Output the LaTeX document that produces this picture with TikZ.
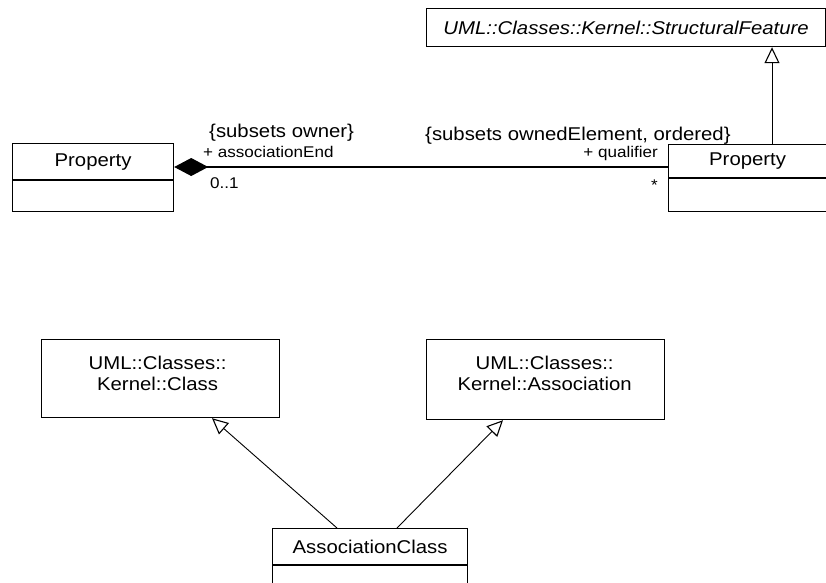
\documentclass[tikz,border=0pt]{standalone}
\usepackage{fontspec}
\setmainfont[FakeStretch=1.1]{Liberation Sans}
\usetikzlibrary{arrows.meta,calc}
\newcommand{\bigtxt}{\fontsize{18.5}{21}\selectfont}
\newcommand{\smalltxt}{\fontsize{15.5}{17}\selectfont}
\begin{document}
\begin{tikzpicture}[x=1pt,y=-1pt,
  box/.style={draw, line width=1.2pt, inner sep=0pt, anchor=north west, font=\bigtxt},
  lbl/.style={inner sep=0pt, font=\bigtxt},
  slbl/.style={inner sep=0pt, font=\smalltxt},
  gen/.style={line width=0.9pt, -{Triangle[open,length=16pt,width=15pt,line width=1.1pt]}},
  assoc/.style={line width=1.2pt, {Diamond[length=34pt,width=18pt]}-}
]
\useasboundingbox[fill=white] (0,0) rectangle (826,582);

% Structural feature
\node[box, minimum width=399pt, minimum height=38pt] (sf) at (426,8) {};
\node[lbl, font=\bigtxt\itshape] (sft) at (sf.center) {UML::Classes::Kernel::StructuralFeature};

% Left Property
\node[box, minimum width=161pt, minimum height=36pt] (lp) at (12,143) {Property};
\node[box, anchor=north, minimum width=161pt, minimum height=31pt] (lpa) at (lp.south) {};

% Right Property
\node[box, minimum width=172pt, minimum height=33pt] (rp) at (668,144) {\hspace*{-14pt}Property};
\node[box, anchor=north, minimum width=172pt, minimum height=33pt] (rpa) at (rp.south) {};

% association
\coordinate (aL) at ($(lp.north east)+(0,24)$);
\draw[assoc] (aL) -- (rp.west |- aL);

\node[lbl, anchor=base west] (l1) at (209,137) {\{subsets owner\}};
\node[slbl, anchor=base west] (l2) at (203,157) {+ associationEnd};
\node[slbl, anchor=base west] (l3) at (210,188) {0..1};
\node[lbl, anchor=base west] (l4) at (425,140) {\{subsets ownedElement, ordered\}};
\node[slbl, anchor=base east] (l5) at (658,157) {+ qualifier};
\node[slbl, anchor=base east] (l6) at (658,190) {*};

% generalization Property -> StructuralFeature
\draw[gen] ($(rp.north west)+(104,0)$) -- ($(sf.south west)+(346,0)$);

% Bottom classes
\node[box, minimum width=238pt, minimum height=78pt] (cb) at (41,339) {};
\node[lbl, align=center] (cbt) at ($(cb.center)+(-3,-5.5)$) {UML::Classes::\\Kernel::Class};
\node[box, minimum width=238pt, minimum height=80pt] (ab) at (426,339) {};
\node[lbl, align=center] (abt) at ($(ab.center)+(-1,-6.5)$) {UML::Classes::\\Kernel::Association};

\node[box, minimum width=195pt, minimum height=36pt] (ac) at (272,528) {AssociationClass};
\node[box, anchor=north, minimum width=195pt, minimum height=40pt] (aca) at (ac.south) {};

\draw[gen] ($(ac.north west)+(65,0)$) -- ($(cb.south west)+(171,0)$);
\draw[gen] ($(ac.north west)+(125,0)$) -- ($(ab.south west)+(77,0)$);
\end{tikzpicture}
\end{document}
